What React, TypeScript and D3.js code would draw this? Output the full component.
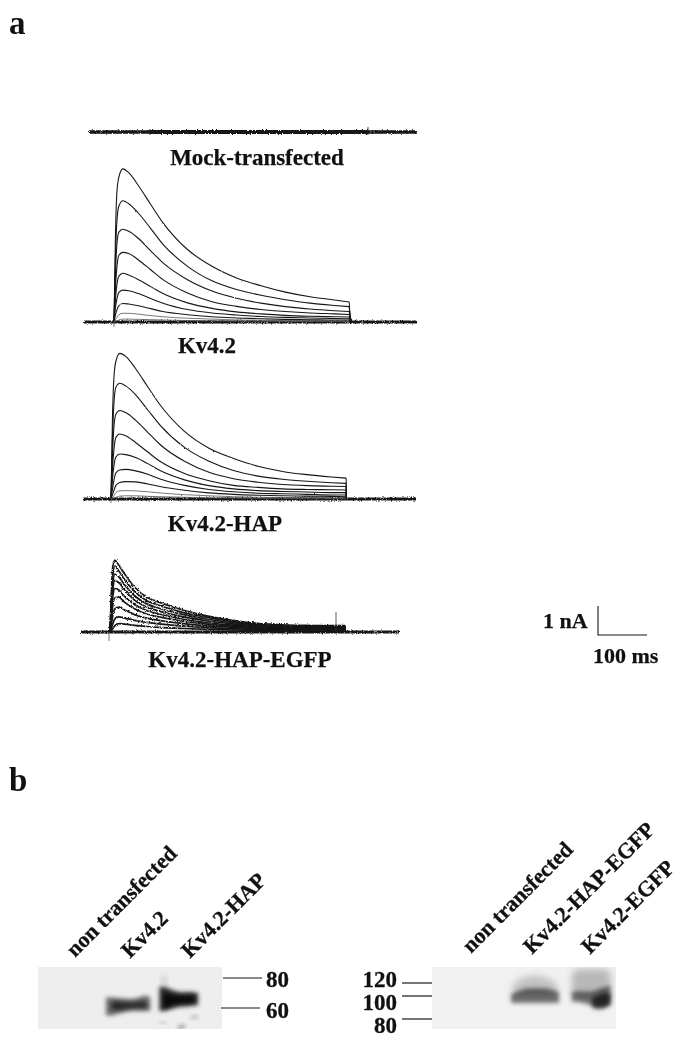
import * as d3 from "d3";

// time points of the sweeps, ms after the voltage step
const sweepTimes = [0, 3, 6, 10, 18, 30, 50, 75, 100, 150, 200, 250, 300, 350, 400, 450, 480];
const tailTimes = [480, 481, 483, 486];
const tailFractions = [1, 0.6, 0.2, 0];

// current in nA, one row per voltage step
const kv42Sweeps = [
  [0, 3.0, 4.5, 5.0, 5.28, 5.15, 4.7, 4.05, 3.42, 2.5, 1.92, 1.52, 1.25, 1.03, 0.87, 0.76, 0.69],
  [0, 2.3, 3.5, 4.0, 4.18, 4.08, 3.75, 3.22, 2.68, 1.92, 1.42, 1.12, 0.92, 0.77, 0.65, 0.57, 0.53],
  [0, 1.7, 2.7, 3.1, 3.2, 3.13, 2.88, 2.45, 2.04, 1.46, 1.07, 0.82, 0.65, 0.53, 0.45, 0.39, 0.36],
  [0, 1.2, 1.9, 2.3, 2.4, 2.36, 2.14, 1.8, 1.46, 1.0, 0.7, 0.54, 0.43, 0.36, 0.31, 0.28, 0.26],
  [0, 0.8, 1.3, 1.58, 1.68, 1.62, 1.46, 1.22, 0.98, 0.66, 0.47, 0.35, 0.28, 0.23, 0.2, 0.18, 0.17],
  [0, 0.5, 0.8, 1.02, 1.1, 1.08, 0.98, 0.81, 0.65, 0.43, 0.31, 0.24, 0.19, 0.16, 0.14, 0.12, 0.11],
  [0, 0.25, 0.42, 0.56, 0.64, 0.62, 0.56, 0.46, 0.36, 0.25, 0.18, 0.14, 0.11, 0.09, 0.08, 0.07, 0.07],
  [0, 0.08, 0.16, 0.25, 0.3, 0.3, 0.27, 0.22, 0.18, 0.13, 0.1, 0.07, 0.06, 0.05, 0.05, 0.04, 0.04],
  [0, 0.02, 0.04, 0.07, 0.1, 0.1, 0.09, 0.08, 0.07, 0.05, 0.04, 0.03, 0.03, 0.02, 0.02, 0.02, 0.02],
];
const hapSweeps = [
  [0, 2.8, 4.2, 4.75, 5.02, 4.92, 4.5, 3.87, 3.25, 2.33, 1.75, 1.4, 1.13, 0.95, 0.84, 0.76, 0.72],
  [0, 2.1, 3.3, 3.85, 3.99, 3.9, 3.6, 3.07, 2.55, 1.78, 1.3, 0.98, 0.79, 0.68, 0.61, 0.56, 0.54],
  [0, 1.5, 2.5, 2.92, 3.05, 2.98, 2.72, 2.3, 1.88, 1.3, 0.92, 0.7, 0.58, 0.5, 0.46, 0.44, 0.43],
  [0, 1.05, 1.7, 2.12, 2.24, 2.18, 1.95, 1.62, 1.3, 0.88, 0.63, 0.47, 0.4, 0.35, 0.33, 0.32, 0.31],
  [0, 0.7, 1.15, 1.45, 1.55, 1.53, 1.43, 1.22, 0.98, 0.66, 0.46, 0.35, 0.29, 0.26, 0.24, 0.22, 0.22],
  [0, 0.35, 0.65, 0.9, 1.0, 1.02, 0.97, 0.85, 0.69, 0.47, 0.33, 0.25, 0.2, 0.18, 0.16, 0.14, 0.14],
  [0, 0.15, 0.3, 0.47, 0.57, 0.6, 0.59, 0.52, 0.43, 0.3, 0.21, 0.16, 0.13, 0.11, 0.1, 0.09, 0.08],
  [0, 0.05, 0.12, 0.22, 0.28, 0.29, 0.28, 0.25, 0.21, 0.15, 0.11, 0.08, 0.06, 0.05, 0.05, 0.04, 0.04],
  [0, 0.01, 0.03, 0.06, 0.1, 0.11, 0.11, 0.09, 0.08, 0.06, 0.04, 0.03, 0.02, 0.02, 0.01, 0.01, 0.01],
];
const egfpSweeps = [
  [0, 1.4, 2.3, 2.47, 2.3, 2.0, 1.55, 1.2, 1.03, 0.75, 0.55, 0.4, 0.3, 0.25, 0.23, 0.22, 0.22],
  [0, 1.2, 2.0, 2.27, 2.1, 1.8, 1.4, 1.08, 0.92, 0.67, 0.5, 0.36, 0.28, 0.23, 0.21, 0.2, 0.2],
  [0, 1.0, 1.75, 2.0, 1.9, 1.62, 1.25, 0.97, 0.82, 0.6, 0.44, 0.32, 0.25, 0.21, 0.19, 0.18, 0.18],
  [0, 0.85, 1.5, 1.78, 1.7, 1.45, 1.1, 0.86, 0.72, 0.52, 0.38, 0.28, 0.22, 0.19, 0.17, 0.16, 0.16],
  [0, 0.7, 1.25, 1.5, 1.45, 1.22, 0.95, 0.74, 0.62, 0.44, 0.32, 0.24, 0.19, 0.16, 0.15, 0.14, 0.14],
  [0, 0.5, 0.95, 1.18, 1.2, 1.02, 0.8, 0.62, 0.52, 0.37, 0.27, 0.2, 0.16, 0.14, 0.13, 0.12, 0.12],
  [0, 0.3, 0.6, 0.8, 0.86, 0.76, 0.6, 0.48, 0.4, 0.29, 0.21, 0.16, 0.13, 0.11, 0.1, 0.1, 0.1],
  [0, 0.15, 0.3, 0.45, 0.52, 0.48, 0.4, 0.33, 0.28, 0.2, 0.15, 0.12, 0.09, 0.08, 0.07, 0.07, 0.07],
  [0, 0.05, 0.12, 0.22, 0.29, 0.27, 0.23, 0.19, 0.16, 0.12, 0.09, 0.07, 0.05, 0.05, 0.04, 0.04, 0.04],
];

const blotLeftLabels = ["non transfected", "Kv4.2", "Kv4.2-HAP"];
const blotRightLabels = ["non transfected", "Kv4.2-HAP-EGFP", "Kv4.2-EGFP"];
const markersLeft = [80, 60];
const markersRight = [120, 100, 80];

// band outlines: lane position (% of blot width), upper and lower edge in kDa, density 0-1
type Band = { lane: number[]; upper: number[]; lower: number[]; density: number };
const bandsLeft: Band[] = [
  { lane: [37, 41, 48, 54, 58, 61], upper: [67, 67, 66, 66, 69, 67], lower: [55, 55, 58, 58, 58, 58], density: 0.6 },
  { lane: [40, 44, 50, 54, 57, 59], upper: [64, 64.5, 63.5, 64, 65, 63], lower: [59, 58, 60, 60, 60, 60], density: 0.6 },
  { lane: [66, 70, 76, 82, 87], upper: [74, 74, 70, 71, 70], lower: [58, 58, 61, 61, 62], density: 0.85 },
  { lane: [68, 70, 74, 80, 85], upper: [70, 70, 68, 68, 68], lower: [60, 60, 63, 63, 64], density: 0.85 },
  { lane: [67, 68.5, 70], upper: [82, 82, 82], lower: [70, 70, 70], density: 0.14 },
  { lane: [66, 68, 70], upper: [50.6, 50.8, 50.6], lower: [49.6, 49.6, 49.6], density: 0.3 },
  { lane: [76, 78, 80], upper: [48, 48.8, 48], lower: [46.6, 46.4, 46.6], density: 0.5 },
  { lane: [83, 85, 87], upper: [54.2, 54.8, 55], lower: [53, 53, 53.6], density: 0.35 },
];
const bandsRight: Band[] = [
  { lane: [44, 50, 56, 62, 68], upper: [118, 130, 132, 130, 118], lower: [100, 100, 100, 100, 100], density: 0.2 },
  { lane: [43, 50, 56, 62, 69], upper: [103, 112, 112, 112, 106], lower: [94, 94, 94, 94, 94], density: 0.55 },
  { lane: [76, 80, 88, 94, 97], upper: [136, 142, 142, 142, 136], lower: [100, 100, 98, 98, 102], density: 0.24 },
  { lane: [76, 80, 86, 92, 97], upper: [106, 108, 105, 112, 116], lower: [95, 95, 92, 90, 92], density: 0.55 },
  { lane: [87, 91, 95, 97], upper: [98, 102, 104, 103], lower: [90, 88, 90, 94], density: 0.7 },
];

const SERIF = "'Liberation Serif', 'Times New Roman', serif";
const INK = "#161616";

// 100 ms = 49 px, 1 nA = 29 px (from the scale bar)
const PX_PER_MS = 0.49;
const PX_PER_NA = 29;

const panels = [
  { sweeps: kv42Sweeps, onset: 114, baseline: 322, from: 84, to: 417, width: 1.1, noise: "url(#rough)", tail: true },
  { sweeps: hapSweeps, onset: 111, baseline: 499, from: 83, to: 416, width: 1.1, noise: "url(#rough)", tail: false },
  { sweeps: egfpSweeps, onset: 110, baseline: 632, from: 81, to: 399, width: 1.7, noise: "url(#roughHeavy)", tail: false },
];

function Traces({ panel }: { panel: (typeof panels)[number] }) {
  const x = d3.scaleLinear().domain([0, 100]).range([panel.onset, panel.onset + 100 * PX_PER_MS]);
  const y = d3.scaleLinear().domain([0, 1]).range([panel.baseline, panel.baseline - PX_PER_NA]);
  const line = d3
    .line<[number, number]>()
    .x((d) => x(d[0]))
    .y((d) => y(d[1]))
    .curve(d3.curveMonotoneX);
  const straight = d3
    .line<[number, number]>()
    .x((d) => x(d[0]))
    .y((d) => y(d[1]));
  const baselinePath = straight([
    [x.invert(panel.from), 0],
    [x.invert(panel.to), 0],
  ]) as string;
  return (
    <g>
      <path d={baselinePath} stroke={INK} strokeWidth={3} fill="none" filter="url(#roughHeavy)" />
      {panel.sweeps.map((values, i) => {
        const points = sweepTimes.map((t, j) => [t, values[j]] as [number, number]);
        const endValue = values[values.length - 1];
        const tail = panel.tail
          ? tailTimes.map((t, j) => [t, endValue * tailFractions[j]] as [number, number])
          : ([
              [480, endValue],
              [480, 0],
            ] as [number, number][]);
        return (
          <g key={i}>
            <path
              d={line(points) as string}
              stroke={i >= 7 && panel.width < 1.5 ? "#555" : INK}
              strokeWidth={i >= 7 && panel.width < 1.5 ? 0.8 : panel.width}
              fill="none"
              filter={panel.noise}
            />
            <path d={straight(tail) as string} stroke={INK} strokeWidth={1} fill="none" />
          </g>
        );
      })}
    </g>
  );
}

function Blot({
  bands,
  left,
  kda,
  px,
  fill,
}: {
  bands: Band[];
  left: number;
  kda: number[];
  px: number[];
  fill: string;
}) {
  const x = d3.scaleLinear().domain([0, 100]).range([left, left + 184]);
  const y = d3.scaleLinear().domain(kda).range(px);
  const shade = d3.scaleLinear<string>().domain([0, 1]).range(["#eeeeee", "#0c0c0c"]);
  return (
    <g>
      <rect x={left} y={967} width={184} height={62} fill={fill} />
      <g clipPath={`url(#clip${left})`}>
        {bands.map((b, i) => {
          const a = d3
            .area<number>()
            .x((_, j) => x(b.lane[j]))
            .y0((_, j) => y(b.lower[j]))
            .y1((_, j) => y(b.upper[j]))
            .curve(d3.curveBasis);
          return (
            <path
              key={i}
              d={a(b.lane) as string}
              fill={shade(b.density)}
              filter={b.density < 0.25 ? "url(#softer)" : "url(#soft)"}
              style={{ mixBlendMode: "multiply" }}
            />
          );
        })}
      </g>
      <clipPath id={`clip${left}`}>
        <rect x={left} y={967} width={184} height={62} />
      </clipPath>
    </g>
  );
}

export default function App() {
  const barX = d3.scaleLinear().domain([0, 100]).range([598, 598 + 100 * PX_PER_MS]);
  const barY = d3.scaleLinear().domain([0, 1]).range([635, 635 - PX_PER_NA]);
  const mwLeft = d3.scaleLinear().domain([60, 80]).range([1008, 978]);
  const mwRight = d3.scaleLinear().domain([80, 100, 120]).range([1019, 996, 983]);

  return (
    <svg
      width={696}
      height={1050}
      style={{ position: "absolute", left: 0, top: 0, background: "#fff" }}
      fontFamily={SERIF}
      fontWeight="bold"
      fill="#111"
      stroke="none"
    >
      <defs>
        <filter id="rough" x={0} y={0} width={696} height={1050} filterUnits="userSpaceOnUse">
          <feTurbulence type="fractalNoise" baseFrequency="0.7" numOctaves={2} seed={3} />
          <feDisplacementMap in="SourceGraphic" scale={1.5} xChannelSelector="R" yChannelSelector="G" />
        </filter>
        <filter id="roughHeavy" x={0} y={0} width={696} height={1050} filterUnits="userSpaceOnUse">
          <feTurbulence type="fractalNoise" baseFrequency="0.8" numOctaves={2} seed={7} />
          <feDisplacementMap in="SourceGraphic" scale={3} xChannelSelector="R" yChannelSelector="G" />
        </filter>
        <filter id="soft" x="-30%" y="-80%" width="160%" height="260%">
          <feGaussianBlur stdDeviation={2.2} />
        </filter>
        <filter id="softer" x="-30%" y="-80%" width="160%" height="260%">
          <feGaussianBlur stdDeviation={3.5} />
        </filter>
      </defs>

      <text x={9} y={34} fontSize={33}>a</text>
      <text x={9} y={791} fontSize={33}>b</text>

      {/* mock-transfected cell, flat current */}
      <line x1={89} x2={417} y1={132} y2={132} stroke={INK} strokeWidth={3.4} filter="url(#roughHeavy)" />
      <line x1={150} x2={368} y1={132} y2={132} stroke={INK} strokeWidth={4} filter="url(#roughHeavy)" />
      <line x1={150} x2={150} y1={129} y2={135} stroke={INK} strokeWidth={0.8} />
      <line x1={368} x2={368} y1={127} y2={135} stroke={INK} strokeWidth={0.8} />

      {panels.map((p, i) => (
        <Traces key={i} panel={p} />
      ))}
      {/* capacity artefacts at the step edges */}
      <line x1={109} x2={109} y1={632} y2={641} stroke="#555" strokeWidth={0.8} />
      <line x1={336} x2={336} y1={612} y2={632} stroke="#333" strokeWidth={0.8} />
      <line x1={114} x2={114} y1={322} y2={327} stroke="#555" strokeWidth={0.8} />
      <line x1={111} x2={111} y1={499} y2={503} stroke="#555" strokeWidth={0.8} />

      <g fontSize={23} textAnchor="middle" stroke="#111" strokeWidth={0.25}>
        <text x={257} y={165}>Mock-transfected</text>
        <text x={207} y={353}>Kv4.2</text>
        <text x={225} y={531}>Kv4.2-HAP</text>
        <text x={240} y={667}>Kv4.2-HAP-EGFP</text>
      </g>

      {/* scale bar */}
      <path
        d={`M${barX(0)},${barY(1)}V${barY(0)}H${barX(100)}`}
        fill="none"
        stroke={INK}
        strokeWidth={1.1}
      />
      <g fontSize={22} stroke="#111" strokeWidth={0.25}>
        <text x={543} y={628}>1 nA</text>
        <text x={593} y={663}>100 ms</text>
      </g>

      {/* western blots */}
      <Blot bands={bandsLeft} left={38} kda={[60, 80]} px={[1008, 978]} fill="#eeeeee" />
      <Blot bands={bandsRight} left={432} kda={[80, 100, 120]} px={[1019, 996, 983]} fill="#f1f1f1" />

      <g fontSize={22} stroke="#111" strokeWidth={0.3}>
        {blotLeftLabels.map((label, i) => (
          <text key={label} transform={`translate(${[75, 130, 190][i]},${[958, 959, 959][i]}) rotate(-45)`}>
            {label}
          </text>
        ))}
        {blotRightLabels.map((label, i) => (
          <text key={label} transform={`translate(${[471, 532, 590][i]},${[954, 955, 955][i]}) rotate(-45)`}>
            {label}
          </text>
        ))}
      </g>

      {markersLeft.map((m, i) => (
        <g key={m}>
          <line
            x1={223 - i * 2}
            x2={262 - i * 2}
            y1={mwLeft(m)}
            y2={mwLeft(m)}
            stroke={INK}
            strokeWidth={1.2}
          />
          <text x={266} y={mwLeft(m) + [9, 10][i]} fontSize={23} stroke="#111" strokeWidth={0.3}>
            {m}
          </text>
        </g>
      ))}
      {markersRight.map((m, i) => (
        <g key={m}>
          <line x1={402} x2={432} y1={mwRight(m)} y2={mwRight(m)} stroke={INK} strokeWidth={1.2} />
          <text
            x={397}
            y={mwRight(m) + [3.5, 14, 14][i]}
            fontSize={23}
            textAnchor="end"
            stroke="#111"
            strokeWidth={0.3}
          >
            {m}
          </text>
        </g>
      ))}
    </svg>
  );
}
